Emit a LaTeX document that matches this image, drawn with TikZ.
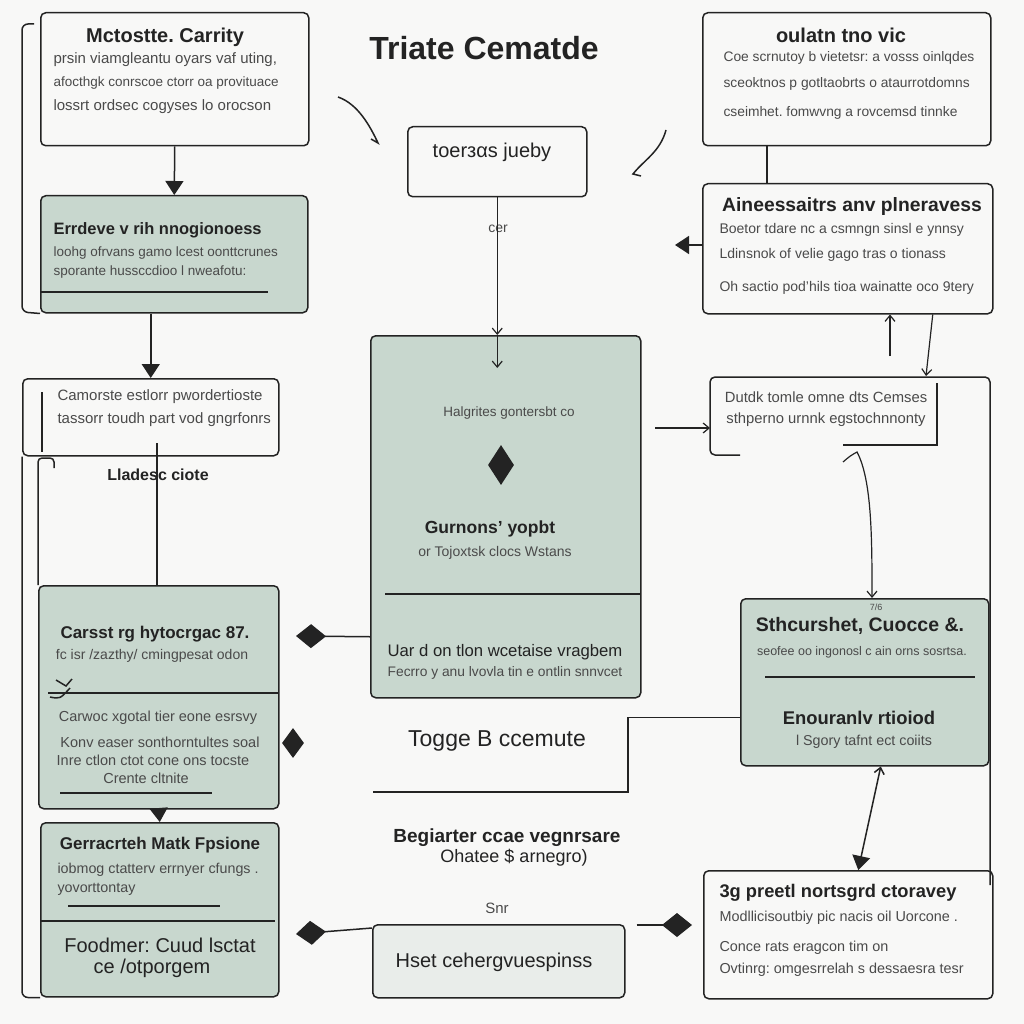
\documentclass[tikz,border=0pt]{standalone}
\usepackage{fontspec}
\setmainfont{Liberation Sans}
\usepackage{xcolor}
\usetikzlibrary{arrows.meta,shapes.geometric}
\definecolor{paper}{HTML}{F8F8F7}
\definecolor{sage}{HTML}{C8D7CE}
\definecolor{pale}{HTML}{E9EDEA}
\definecolor{ink}{HTML}{232323}
\definecolor{grey}{HTML}{4A4A4A}
\frenchspacing

\begin{document}
\begin{tikzpicture}[x=1pt, y=-1pt,
                    line/.style={draw=ink, line width=1.5pt},
                    box/.style={line, rounded corners=5pt, anchor=north west, inner sep=0pt},
                    gbox/.style={box, fill=sage},
                    ttl/.style={font=\bfseries\fontsize{#1}{#1}\selectfont, text=ink},
                    ttl/.default=19,
                    mid/.style={font=\fontsize{#1}{#1}\selectfont, text=ink},
                    mid/.default=20,
                    txt/.style={font=\fontsize{#1}{#1}\selectfont, text=grey},
                    txt/.default=14,
                    tri/.style={line, -{Triangle[length=14pt,width=18pt]}},
                    arr/.style={line, line width=1.2pt, -{Straight Barb[length=6pt,width=10pt]}},
                    dia/.style={line, -{Diamond[length=30pt,width=24pt]}},
                    gem/.style={diamond, fill=ink, inner sep=0pt}]
  \useasboundingbox (0,0) rectangle (1024,1024);
  \fill[paper] (0,0) rectangle (1024,1024);

  \node[ttl=32] (head) at (484,48) {Triate Cematde};

  % left column
  \node[box, minimum width=268pt, minimum height=133pt] (mct) at (40,12) {};
  \node[ttl=20] (mctT) at (165,37) {Mctostte. Carrity};
  \node[txt=15, anchor=west] (mct1) at (50,60) {prsin viamgleantu oyars vaf uting,};
  \node[txt=13.5, anchor=west] (mct2) at (50,83) {afocthgk conrscoe ctorr oa provituace};
  \node[txt=15, anchor=west] (mct3) at (50,107) {lossrt ordsec cogyses lo orocson};

  \node[gbox, minimum width=267pt, minimum height=117pt] (emb) at (40,195) {};
  \node[ttl=16.5, anchor=west] (embT) at (50,230) {Errdeve v rih nnogionoess};
  \node[txt=13.5, anchor=west] (emb1) at (50,253) {loohg ofrvans gamo lcest oonttcrunes};
  \node[txt=13.5, anchor=west] (emb2) at (50,272) {sporante hussccdioo l nweafotu:};
  \draw[line] (40,292) -- (268,292);
  \draw[line, rounded corners=6pt] (34,24) -- (22,24) -- (22,312) -- (emb.south west);

  \node[box, minimum width=256pt, minimum height=77pt] (cam) at (22,378) {};
  \node[txt=15, anchor=west] (cam1) at (54,397) {Camorste estlorr pwordertioste};
  \node[txt=15, anchor=west] (cam2) at (54,420) {tassorr toudh part vod gngrfonrs};
  \draw[line] (42,392) -- (42,452);
  \node[ttl=16] (lla) at (158,475) {Lladesc ciote};

  \node[gbox, minimum width=240pt, minimum height=223pt] (car) at (38,585) {};
  \node[ttl=17] (carT) at (155,634) {Carsst rg hytocrgac 87.};
  \node[txt] (car1) at (152,656) {fc isr /zazthy/ cmingpesat odon};
  \draw[line] (48,693) -- (278,693);
  \draw[line] (50,697) .. controls (60,699) .. (70,688);
  \draw[line] (56,680) -- (66,686) -- (72,679);
  \node[txt=14.5] (car2) at (158,718) {Carwoc xgotal tier eone esrsvy};
  \node[txt=14.5] (car3) at (160,742) {Konv easer sonthorntultes soal};
  \node[txt=14.5] (car4) at (153,760) {Inre ctlon ctot cone ons tocste};
  \node[txt=14.5] (car5) at (146,778) {Crente cltnite};
  \draw[line] (60,793) -- (212,793);

  \node[gbox, minimum width=238pt, minimum height=174pt] (gen) at (40,822) {};
  \node[ttl=17] (genT) at (160,845) {Gerracrteh Matk Fpsione};
  \node[txt=14.3, anchor=west] (gen1) at (54,870) {iobmog ctatterv errnyer cfungs .};
  \node[txt=14.3, anchor=west] (gen2) at (54,889) {yovorttontay};
  \draw[line] (68,906) -- (220,906);
  \draw[line] (40,921) -- (275,921);
  \node[mid] (genB) at (160,945) {Foodmer: Cuud lsctat};
  \node[mid] (genC) at (152,968) {ce /otporgem};

  \coordinate (lt) at (157,443);
  \draw[tri] (mct.south) -- (emb.north);
  \draw[tri] (emb.south -| cam.north) -- (cam.north);
  \draw[line] (lt) -- (lt |- car.north);
  \draw[line, rounded corners=4pt] (car.north west) -- (38,458) -- (54,458) -- (54,468);
  \draw[line, rounded corners=6pt] (cam.south west) |- (gen.south west);
  \draw[tri] (car.south) -- (gen.north);

  % middle column
  \draw[line] (338,97) .. controls (358,104) and (370,126) .. (378,143) -- (371,139);
  \draw[line] (666,130) .. controls (660,152) and (644,160) .. (633,174) -- (641,176);
  \node[box, minimum width=179pt, minimum height=70pt] (toer) at (407,126) {};
  \node[mid] (toerT) at (492,152) {toerзαs jueby};
  \node[txt] (cer) at (498,229) {cer};

  \node[gbox, minimum width=270pt, minimum height=362pt] (ent) at (370,335) {};
  \node[txt=13.5] (ent1) at (509,413) {Halgrites gontersbt co};
  \node[gem, minimum width=26pt, minimum height=40pt] (entD) at (501,465) {};
  \node[ttl=17.5] (entT) at (490,529) {Gurnons' yopbt};
  \node[txt] (ent2) at (495,553) {or Tojoxtsk clocs Wstans};
  \draw[line] (385,594) -- (640,594);
  \node[mid=16.7] (ent3) at (505,652) {Uar d on tlon wcetaise vragbem};
  \node[txt=13.8] (ent4) at (505,673) {Fecrro y anu lvovla tin e ontlin snnvcet};

  \draw[arr] (toer.south) -- (toer.south |- ent.north);
  \draw[arr] (toer.south |- ent.north) -- ++(0,33);
  \draw[dia] ([yshift=-120pt]ent.west) -- (296,636);
  \node[gem, minimum width=22pt, minimum height=30pt] (gemL) at (293,743) {};

  \node[mid=23] (tog) at (497,741) {Togge B ccemute};
  \node[ttl] (beg1) at (507,838) {Begiarter ccae vegnrsare};
  \node[mid=18] (beg2) at (514,858) {Ohatee \$ arnegro)};
  \node[txt=15] (snr) at (497,908) {Snr};
  \node[box, fill=pale, minimum width=252pt, minimum height=73pt] (hset) at (372,924) {};
  \node[mid=20] (hsetT) at (494,962) {Hset cehergvuespinss};
  \draw[dia] ([yshift=-4pt]hset.north west) -- (296,934);

  % right column
  \node[box, minimum width=288pt, minimum height=133pt] (oul) at (702,12) {};
  \node[ttl=20] (oulT) at (841,35) {oulatn tno vic};
  \node[txt=13.8, anchor=west] (oul1) at (720,58) {Coe scrnutoy b vietetsr: a vosss oinlqdes};
  \node[txt=13.8, anchor=west] (oul2) at (720,84) {sceoktnos p gotltaobrts o ataurrotdomns};
  \node[txt=13.8, anchor=west] (oul3) at (720,113) {cseimhet. fomwvng a rovcemsd tinnke};

  \node[box, minimum width=290pt, minimum height=130pt] (aln) at (702,183) {};
  \node[ttl=19.3] (alnT) at (852,207) {Aineessaitrs anv plneravess};
  \node[txt, anchor=west] (aln1) at (716,230) {Boetor tdare nc a csmngn sinsl e ynnsy};
  \node[txt, anchor=west] (aln2) at (716,255) {Ldinsnok of velie gago tras o tionass};
  \node[txt, anchor=west] (aln3) at (716,288) {Oh sactio pod'hils tioa wainatte oco 9tery};

  \coordinate (alo) at (675,245);
  \coordinate (up1) at (890,356);
  \coordinate (gt) at (926,376);
  \draw[line] ([xshift=-80pt]oul.south) -- ([xshift=-80pt]oul.south |- aln.north);
  \draw[tri] (aln.west |- alo) -- (alo);
  \draw[arr] (up1) -- (up1 |- aln.south);
  \draw[arr] ([xshift=85pt]aln.south) -- (gt);

  \node[minimum width=227pt, minimum height=78pt, anchor=north west, inner sep=0pt] (dut) at (710,377) {};
  \draw[line, rounded corners=5pt] (740,455) -- (710,455) -- (710,377) -- (990,377) -- (990,885);
  \draw[line] (843,445) -- (937,445) -- (937,383);
  \node[txt=14.8] (dut1) at (826,397) {Dutdk tomle omne dts Cemses};
  \node[txt=14.8] (dut2) at (826,420) {sthperno urnnk egstochnnonty};

  \coordinate (eo) at (655,428);
  \draw[arr] (eo) -- (eo -| dut.west);

  \node[gbox, minimum width=248pt, minimum height=167pt] (stc) at (740,598) {};
  \node[txt=9] (stc0) at (876,607) {7/6};
  \node[ttl=19.5] (stcT) at (860,626) {Sthcurshet, Cuocce \&.};
  \node[txt=12.5] (stc1) at (862,652) {seofee oo ingonosl c ain orns sosrtsa.};
  \draw[line] (765,677) -- (975,677);
  \node[ttl=18.4] (stcB) at (859,718) {Enouranlv rtioiod};
  \node[txt=14.3] (stc2) at (864,742) {l Sgory tafnt ect coiits};

  \coordinate (gs) at (843,462);
  \coordinate (ie) at (872,598);
  \draw[arr] (gs) .. controls (850,456) .. (857,452) .. controls (872,480) and (872,540) .. (ie);

  \coordinate (tg) at (373,792);
  \draw[line] ([yshift=-35pt]stc.west) -| (628,792) -- (tg);

  \node[box, minimum width=289pt, minimum height=128pt] (jpr) at (703,870) {};
  \node[ttl=18.3, anchor=west] (jprT) at (716,893) {3g preetl nortsgrd ctoravey};
  \node[txt=14.4, anchor=west] (jpr1) at (716,918) {Modllicisoutbiy pic nacis oil Uorcone .};
  \node[txt=14.4, anchor=west] (jpr2) at (716,948) {Conce rats eragcon tim on};
  \node[txt=14.4, anchor=west] (jpr3) at (716,970) {Ovtinrg: omgesrrelah s dessaesra tesr};

  \draw[line, {Straight Barb[length=6pt,width=10pt]}-{Triangle[length=14pt,width=18pt]}] ([xshift=16pt]stc.south) -- ([xshift=10pt]jpr.north);
  \coordinate (dj) at (692,925);
  \draw[dia] ([xshift=11pt,yshift=-1pt]hset.north east) -- (dj);
\end{tikzpicture}
\end{document}
